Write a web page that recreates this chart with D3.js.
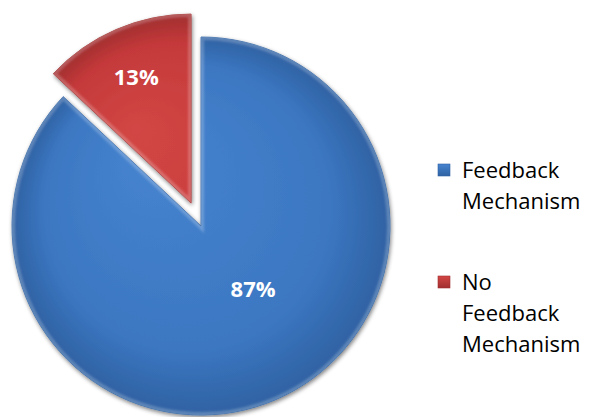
<!DOCTYPE html>
<html>
<head>
<meta charset="utf-8">
<script src="https://cdn.jsdelivr.net/npm/d3@7"></script>
<style>
  html, body { margin: 0; padding: 0; background: #fff; }
  svg { display: block; }
</style>
</head>
<body>
<svg id="chart" width="590" height="417"></svg>
<script>
// Share of respondents with / without a feedback mechanism
const categories = ["Feedback Mechanism", "No Feedback Mechanism"];
const values = [87, 13];
const legendLines = [["Feedback", "Mechanism"], ["No", "Feedback", "Mechanism"]];

// Layout
const W = 590, H = 417;
const cx = 201, cy = 226, R = 189;
const explode = [0, 25];           // outward offset of each slice
const labelRadius = [81, 138];     // distance of the value label from the slice apex
const labelTurn = [-0.29, 0];      // label angle shift from the slice bisector (radians)
const baseColor = ["#3c77c2", "#c4393a"];
const lightColor = ["#4684cf", "#d24644"];
const darkColor = ["#2f62a3", "#a12e2f"];

const svg = d3.select("#chart");
const defs = svg.append("defs");

// soft shadow around the pie pieces
const shadow = defs.append("filter").attr("id", "shadow")
  .attr("x", "-20%").attr("y", "-20%").attr("width", "140%").attr("height", "140%");
shadow.append("feGaussianBlur").attr("in", "SourceAlpha").attr("stdDeviation", 2).attr("result", "b");
shadow.append("feOffset").attr("in", "b").attr("dx", 1).attr("dy", 2).attr("result", "o");
shadow.append("feComponentTransfer").attr("in", "o").attr("result", "s")
  .append("feFuncA").attr("type", "linear").attr("slope", 0.5);
const merge = shadow.append("feMerge");
merge.append("feMergeNode").attr("in", "s");
merge.append("feMergeNode").attr("in", "SourceGraphic");

// soft blur for the inner rim highlight
defs.append("filter").attr("id", "soft")
  .append("feGaussianBlur").attr("stdDeviation", 1.2);

values.forEach((v, i) => {
  const g = defs.append("radialGradient").attr("id", "grad" + i)
    .attr("gradientUnits", "userSpaceOnUse")
    .attr("cx", 0).attr("cy", 0).attr("r", R)
    .attr("fx", -R * 0.3).attr("fy", -R * 0.4);
  g.append("stop").attr("offset", "0%").attr("stop-color", lightColor[i]);
  g.append("stop").attr("offset", "75%").attr("stop-color", baseColor[i]);
  g.append("stop").attr("offset", "100%").attr("stop-color", darkColor[i]);

  const lg = defs.append("linearGradient").attr("id", "lgrad" + i)
    .attr("x1", 0).attr("y1", 0).attr("x2", 0).attr("y2", 1);
  lg.append("stop").attr("offset", "0%").attr("stop-color", lightColor[i]);
  lg.append("stop").attr("offset", "100%").attr("stop-color", darkColor[i]);
});

const pie = d3.pie().sort(null).startAngle(0).endAngle(2 * Math.PI);
const arcs = pie(values);
const arc = d3.arc().innerRadius(0).outerRadius(R);

const root = svg.append("g").attr("transform", `translate(${cx},${cy})`);

const slices = root.selectAll("g.slice").data(arcs).join("g")
  .attr("class", "slice")
  .attr("transform", (d, i) => {
    const mid = (d.startAngle + d.endAngle) / 2;
    const [x, y] = d3.pointRadial(mid, explode[i]);
    return `translate(${x},${y})`;
  });

slices.each(function (d, i) {
  d3.select(this).append("clipPath").attr("id", "clip" + i)
    .append("path").attr("d", arc(d));
});

slices.append("path")
  .attr("d", arc)
  .attr("fill", (d, i) => `url(#grad${i})`)
  .attr("stroke", (d, i) => darkColor[i])
  .attr("stroke-width", 0.8)
  .attr("filter", "url(#shadow)");

// light bevel along the inside of each slice edge
slices.append("path")
  .attr("d", arc)
  .attr("fill", "none")
  .attr("stroke", "#ffffff")
  .attr("stroke-opacity", 0.22)
  .attr("stroke-width", 6)
  .attr("clip-path", (d, i) => `url(#clip${i})`)
  .attr("filter", "url(#soft)");

slices.append("text")
  .attr("transform", (d, i) => {
    const mid = (d.startAngle + d.endAngle) / 2 + labelTurn[i];
    const [x, y] = d3.pointRadial(mid, labelRadius[i]);
    return `translate(${x},${y})`;
  })
  .attr("text-anchor", "middle")
  .attr("dominant-baseline", "central")
  .attr("font-family", "'Open Sans', sans-serif")
  .attr("font-weight", 700)
  .attr("font-size", 22)
  .attr("fill", "#ffffff")
  .text(d => d.data + "%");

// Legend
const legendX = 438, legendTop = [170, 282], lineH = 31;
const legend = svg.append("g").selectAll("g").data(categories).join("g")
  .attr("transform", (d, i) => `translate(${legendX},${legendTop[i]})`);

legend.append("rect")
  .attr("x", 0).attr("y", -6).attr("width", 12).attr("height", 12)
  .attr("fill", (d, i) => `url(#lgrad${i})`)
  .attr("stroke", (d, i) => darkColor[i]).attr("stroke-width", 0.6);

legend.append("text")
  .attr("font-family", "'Open Sans', sans-serif")
  .attr("font-size", 22)
  .attr("fill", "#000")
  .selectAll("tspan").data((d, i) => legendLines[i]).join("tspan")
  .attr("x", 24)
  .attr("y", (d, j) => j * lineH)
  .attr("dy", "0.36em")
  .text(d => d);
</script>
</body>
</html>
